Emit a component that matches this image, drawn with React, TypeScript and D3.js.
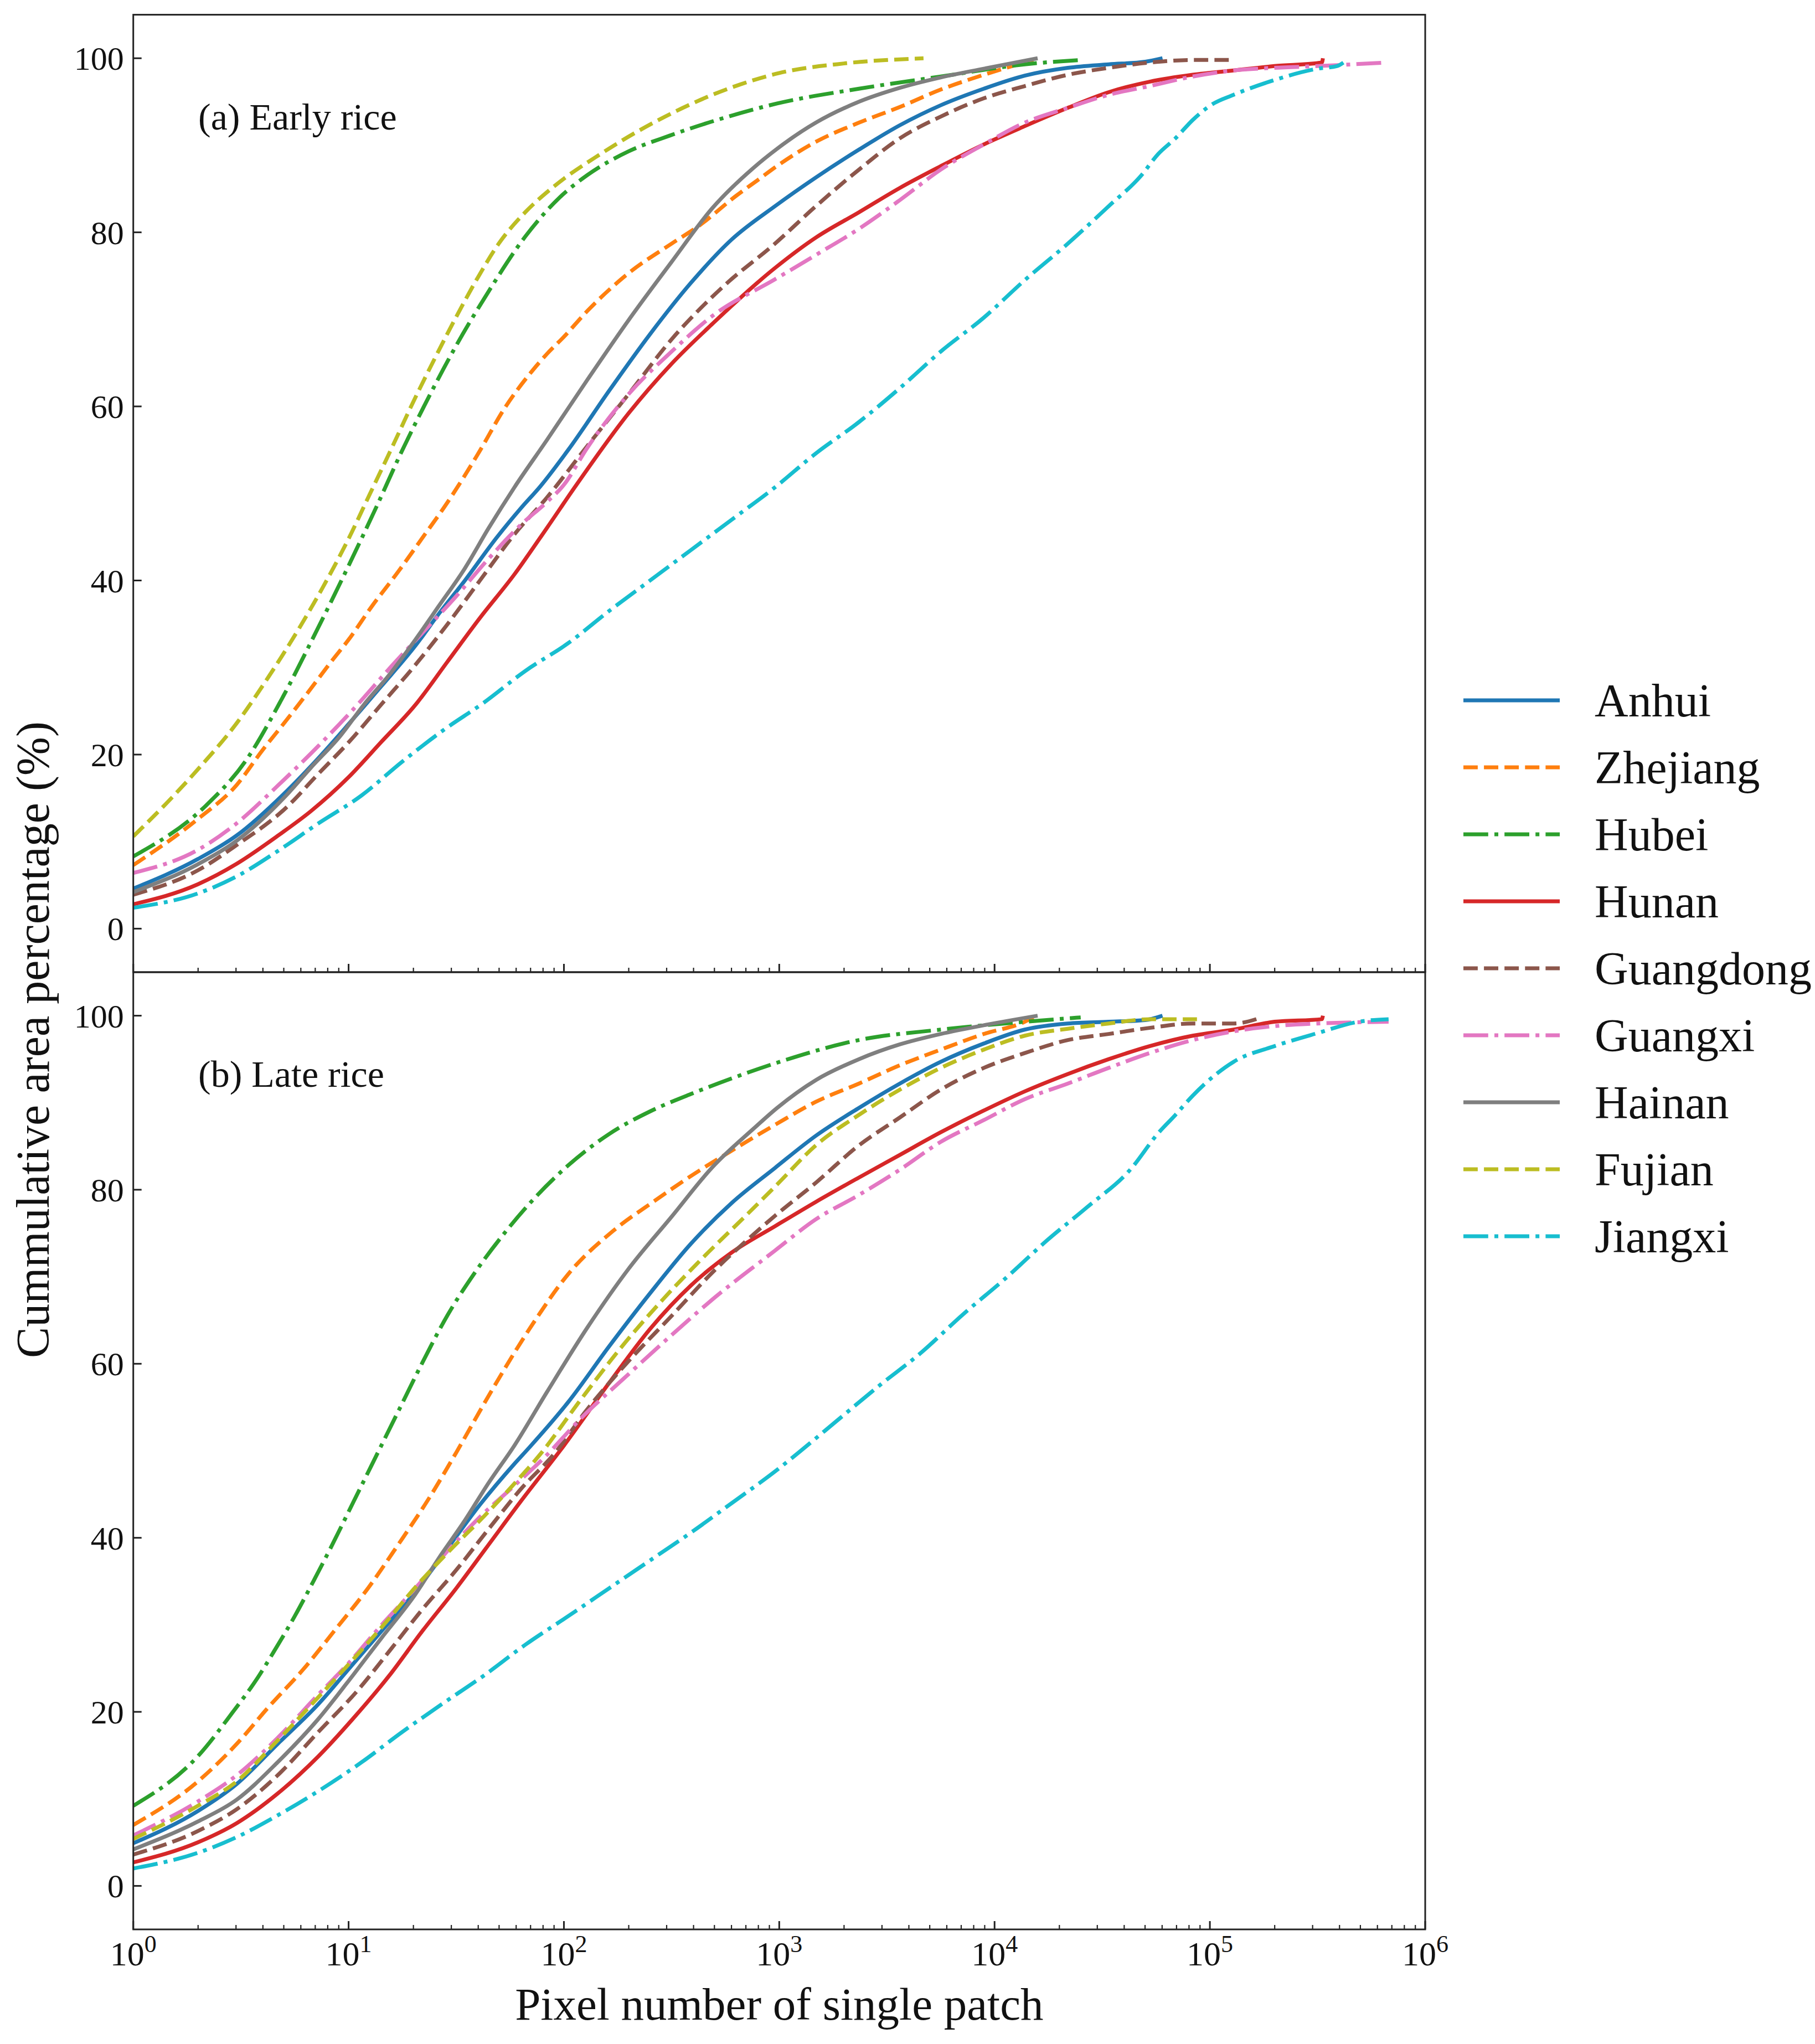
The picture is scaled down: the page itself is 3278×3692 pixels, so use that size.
import React from 'react';
import * as d3 from 'd3';

// Legend / series metadata
const provinces = ['Anhui', 'Zhejiang', 'Hubei', 'Hunan', 'Guangdong', 'Guangxi', 'Hainan', 'Fujian', 'Jiangxi'];
const colors = ['#1f77b4', '#ff7f0e', '#2ca02c', '#d62728', '#8c564b', '#e377c2', '#7f7f7f', '#bcbd22', '#17becf'];
const lineStyles = ['solid', 'dashed', 'dashdot', 'solid', 'dashed', 'dashdot', 'solid', 'dashed', 'dashdot'];
const yTicks = [0, 20, 40, 60, 80, 100];
const xTickExponents = [0, 1, 2, 3, 4, 5, 6];
const panelTitles = ['(a) Early rice', '(b) Late rice'];
const xAxisTitle = 'Pixel number of single patch';
const yAxisTitle = 'Cummulative area percentage (%)';

// Data: [log10(pixel number of single patch), cumulative area percentage]
// (a) Early rice
const earlyAnhui: [number, number][] = [[0,4.6],[0.3,8.0],[0.48,10.7],[0.7,15.5],[0.845,19.2],[1.0,23.5],[1.15,27.8],[1.31,32.5],[1.42,36.2],[1.54,40],[1.69,45],[1.8,48.3],[1.89,50.8],[2.02,55],[2.21,61.8],[2.4,68.3],[2.59,74.2],[2.78,79.2],[2.98,83],[3.17,86.3],[3.37,89.5],[3.56,92.3],[3.75,94.6],[3.95,96.5],[4.14,98],[4.34,98.9],[4.53,99.3],[4.7,99.6],[4.78,100]];
const earlyZhejiang: [number, number][] = [[0,7.3],[0.3,12.6],[0.48,16.5],[0.6,20.5],[0.7,23.6],[0.81,27.1],[0.92,30.7],[1.0,33.2],[1.11,37.1],[1.23,41],[1.34,44.8],[1.46,49],[1.6,54.5],[1.73,60],[1.85,64],[1.92,66],[2.0,68],[2.11,71],[2.3,75.3],[2.5,78.7],[2.63,80.8],[2.8,84.2],[2.9,86],[3.0,87.8],[3.17,90.4],[3.37,92.6],[3.56,94.4],[3.75,96.4],[3.95,98.1],[4.18,99.8]];
const earlyHubei: [number, number][] = [[0,8.3],[0.34,14.2],[0.52,19.2],[0.69,26.4],[0.845,33.9],[1.0,41.7],[1.13,48.5],[1.25,55],[1.35,60],[1.5,67],[1.65,73.2],[1.82,79.5],[1.98,84],[2.11,86.6],[2.3,89.3],[2.49,91.1],[2.75,93.2],[2.99,94.8],[3.37,96.5],[3.75,97.9],[4.14,99.3],[4.4,99.8]];
const earlyHunan: [number, number][] = [[0,2.8],[0.3,5.1],[0.48,7.45],[0.67,10.65],[0.825,13.5],[1.0,17.4],[1.15,21.4],[1.31,25.7],[1.46,30.7],[1.61,35.7],[1.77,40.7],[1.92,46],[2.05,50.7],[2.3,59.2],[2.5,64.9],[2.69,69.5],[2.98,75.9],[3.17,79.4],[3.37,82.3],[3.56,85.1],[3.75,87.6],[3.95,90.1],[4.14,92.2],[4.34,94.3],[4.53,96.1],[4.72,97.3],[4.92,98.1],[5.11,98.6],[5.3,99.1],[5.52,99.5],[5.525,100]];
const earlyGuangdong: [number, number][] = [[0,3.9],[0.3,6.7],[0.48,9.6],[0.71,13.9],[0.86,17.8],[1.0,21.4],[1.15,25.7],[1.31,30.3],[1.46,35],[1.61,40],[1.77,45.3],[1.92,49.5],[2.11,55.5],[2.3,61.4],[2.5,67.7],[2.75,74],[2.98,78.7],[3.17,83],[3.37,87.2],[3.56,90.8],[3.75,93.3],[3.95,95.4],[4.14,96.8],[4.34,98.1],[4.53,98.9],[4.72,99.5],[4.92,99.8],[5.11,99.8]];
const earlyGuangxi: [number, number][] = [[0,6.4],[0.3,9.05],[0.48,12.1],[0.67,16.4],[0.86,21],[1.04,25.7],[1.19,29.9],[1.34,33.9],[1.5,38.2],[1.65,42.5],[1.8,46.4],[1.92,49],[2.0,51],[2.11,55.3],[2.3,61.4],[2.5,66.3],[2.69,70.4],[2.98,74.6],[3.17,77.4],[3.37,80.4],[3.56,83.7],[3.75,87.2],[3.95,90.1],[4.14,92.6],[4.34,94.3],[4.53,95.8],[4.72,96.8],[4.92,97.9],[5.11,98.6],[5.3,98.9],[5.5,99.1],[5.81,99.5]];
const earlyHainan: [number, number][] = [[0,4.2],[0.3,7.4],[0.48,10.1],[0.71,15.3],[0.825,18.5],[0.96,22.1],[1.07,25.7],[1.19,29.2],[1.31,33.2],[1.42,37.1],[1.54,41.4],[1.65,46],[1.77,50.7],[1.92,56.1],[2.11,63.1],[2.3,69.9],[2.5,76.6],[2.69,82.8],[2.88,87.4],[2.99,89.6],[3.17,92.6],[3.37,95],[3.56,96.6],[3.75,97.8],[3.95,98.8],[4.2,100]];
const earlyFujian: [number, number][] = [[0,10.6],[0.15,14.3],[0.3,18.3],[0.48,23.6],[0.63,29],[0.77,34.5],[0.88,39.2],[1.0,44.8],[1.1,50],[1.2,55.2],[1.3,60.5],[1.4,65.5],[1.5,70.3],[1.6,74.8],[1.7,78.8],[1.82,82.3],[1.95,85.2],[2.17,89],[2.47,93.3],[2.82,97],[3.0,98.3],[3.3,99.4],[3.67,100]];
const earlyJiangxi: [number, number][] = [[0,2.4],[0.3,4.05],[0.48,6],[0.67,8.9],[0.86,12.1],[1.06,15.3],[1.25,19.2],[1.44,22.8],[1.63,26],[1.82,29.6],[2.02,32.8],[2.21,36.5],[2.4,40],[2.59,43.5],[2.78,47],[2.98,50.7],[3.17,54.6],[3.37,58.2],[3.56,62.1],[3.75,66.3],[3.95,70.2],[4.14,74.5],[4.34,78.7],[4.53,83],[4.68,86.5],[4.76,89],[4.84,90.8],[4.92,92.9],[5.01,94.7],[5.11,95.8],[5.3,97.5],[5.5,98.8],[5.59,99.1],[5.62,99.5]];

// (b) Late rice
const lateAnhui: [number, number][] = [[0,4.9],[0.3,8.6],[0.48,11.7],[0.67,16.3],[0.86,20.9],[1.0,24.9],[1.15,29.2],[1.31,33.8],[1.46,38.8],[1.61,43.8],[1.77,48.5],[1.84,50.4],[2.02,55.6],[2.21,62],[2.4,68.1],[2.59,73.8],[2.78,78.5],[2.98,82.5],[3.17,86.2],[3.37,89.4],[3.56,92.2],[3.75,94.7],[3.95,96.8],[4.14,98.4],[4.34,99.1],[4.53,99.3],[4.7,99.5],[4.78,100]];
const lateZhejiang: [number, number][] = [[0,7],[0.3,12],[0.48,16.3],[0.63,20.6],[0.79,24.9],[0.94,29.5],[1.09,34.2],[1.23,39.2],[1.38,44.8],[1.5,49.8],[1.65,56.3],[1.84,64],[2.03,70.6],[2.23,75.3],[2.42,78.7],[2.61,81.9],[2.8,84.8],[2.99,87.6],[3.17,90.1],[3.37,92.2],[3.56,94.3],[3.75,96.1],[3.95,97.9],[4.14,99.3],[4.18,99.8]];
const lateHubei: [number, number][] = [[0,9.2],[0.3,14.9],[0.46,19.9],[0.58,24],[0.65,26.8],[0.75,31],[0.845,35.4],[0.92,39],[1.02,44],[1.11,48.5],[1.25,55.5],[1.34,60],[1.46,65.6],[1.59,70.6],[1.73,75.2],[1.84,78.4],[2.02,82.8],[2.21,86.4],[2.4,89],[2.59,91],[2.78,92.8],[2.99,94.6],[3.37,97.2],[3.75,98.4],[4.14,99.3],[4.4,99.8]];
const lateHunan: [number, number][] = [[0,2.7],[0.3,5],[0.48,7.2],[0.67,10.6],[0.86,14.9],[1.02,19.2],[1.19,24.2],[1.34,29.2],[1.5,34.2],[1.65,39.2],[1.8,44.2],[2.0,50.6],[2.21,57.8],[2.4,64],[2.59,69],[2.78,72.8],[2.98,75.8],[3.17,78.6],[3.37,81.4],[3.56,84],[3.75,86.6],[3.95,89.1],[4.14,91.3],[4.34,93.3],[4.53,95],[4.72,96.5],[4.92,97.7],[5.11,98.4],[5.3,99.3],[5.52,99.6],[5.525,100]];
const lateGuangdong: [number, number][] = [[0,3.6],[0.3,6.3],[0.48,8.8],[0.67,12.7],[0.86,17.7],[1.04,22.4],[1.19,27],[1.34,31.7],[1.5,36.3],[1.65,41],[1.8,45.6],[1.96,49.8],[2.1,54.5],[2.3,60.3],[2.5,65.5],[2.69,70.5],[2.85,74.2],[2.98,77],[3.17,80.8],[3.37,85.1],[3.56,88.3],[3.75,91.5],[3.95,94],[4.14,95.7],[4.34,97.2],[4.53,97.9],[4.72,98.6],[4.92,99.1],[5.11,99.1],[5.24,99.8]];
const lateGuangxi: [number, number][] = [[0,5.8],[0.3,9.7],[0.48,12.7],[0.67,17],[0.86,22],[1.0,25.6],[1.15,29.9],[1.31,34.2],[1.46,38.5],[1.61,42.4],[1.77,46],[1.92,49.5],[2.07,53.5],[2.3,58.8],[2.5,63.3],[2.69,67.4],[2.98,73],[3.17,76.6],[3.37,79.4],[3.56,82.3],[3.75,85.5],[3.95,88],[4.14,90.4],[4.34,92.2],[4.53,94],[4.72,95.7],[4.92,97.2],[5.11,98.2],[5.3,98.8],[5.5,99.1],[5.83,99.3]];
const lateHainan: [number, number][] = [[0,4.2],[0.3,7.4],[0.48,9.9],[0.67,14.2],[0.86,19.2],[1.02,24.2],[1.15,28.4],[1.31,33.5],[1.42,37.7],[1.54,42],[1.65,46.3],[1.77,50.6],[1.92,56.7],[2.11,64.2],[2.3,70.9],[2.5,76.9],[2.69,82.6],[2.88,87],[2.99,89.4],[3.17,92.6],[3.37,95],[3.56,96.7],[3.75,97.9],[3.95,98.9],[4.2,100]];
const lateFujian: [number, number][] = [[0,5.4],[0.3,9.2],[0.48,12],[0.67,16.7],[0.86,21.7],[1.02,26],[1.17,30.2],[1.32,34.6],[1.48,38.8],[1.63,42.5],[1.78,46.5],[1.89,49.6],[2.07,55.6],[2.26,61.7],[2.46,67.4],[2.65,72.3],[2.84,76.9],[2.99,80.6],[3.17,85.1],[3.37,88.6],[3.56,91.5],[3.75,94],[3.95,96.1],[4.14,97.7],[4.34,98.5],[4.53,99.1],[4.72,99.6],[4.94,99.6]];
const lateJiangxi: [number, number][] = [[0,2],[0.3,3.8],[0.48,5.6],[0.67,8.1],[0.86,10.9],[1.06,14.2],[1.25,17.7],[1.44,21],[1.63,24.2],[1.82,27.7],[2.02,31],[2.21,34.2],[2.4,37.4],[2.59,40.6],[2.78,44],[3.0,48],[3.1,50],[3.27,53.5],[3.46,57.4],[3.66,61.3],[3.85,65.6],[4.05,69.8],[4.24,74.1],[4.43,78],[4.63,82.3],[4.76,86.5],[4.84,88.6],[4.92,90.8],[5.03,93.3],[5.11,94.7],[5.3,96.5],[5.5,98],[5.69,99.3],[5.83,99.6]];

const earlySeries = [earlyAnhui, earlyZhejiang, earlyHubei, earlyHunan, earlyGuangdong, earlyGuangxi, earlyHainan, earlyFujian, earlyJiangxi];
const lateSeries = [lateAnhui, lateZhejiang, lateHubei, lateHunan, lateGuangdong, lateGuangxi, lateHainan, lateFujian, lateJiangxi];
const panelSeries = [earlySeries, lateSeries];

// Layout
const W = 3278;
const H = 3692;
const LEFT = 240.7;
const RIGHT = 2574;
const PANELS = [
  { top: 26.6, bottom: 1756 },
  { top: 1756, bottom: 3485 },
];
const LW = 7;
const FONT = "'Liberation Serif', 'Times New Roman', Times, serif";

function dashFor(style: string): string | undefined {
  if (style === 'dashed') return `${3.7 * LW} ${1.6 * LW}`;
  if (style === 'dashdot') return `${6.4 * LW} ${1.6 * LW} ${1 * LW} ${1.6 * LW}`;
  return undefined;
}

export default function App() {
  const x = d3.scaleLog().domain([1, 1e6]).range([LEFT, RIGHT]);
  const minorTicks: number[] = [];
  for (let e = 0; e < 6; e++) for (let k = 2; k <= 9; k++) minorTicks.push(k * Math.pow(10, e));

  return (
    <svg
      width={W}
      height={H}
      viewBox={`0 0 ${W} ${H}`}
      style={{ position: 'absolute', left: 0, top: 0, display: 'block', background: '#fff' }}
      fontFamily={FONT}
    >
      <rect x={0} y={0} width={W} height={H} fill="#fff" />
      {PANELS.map((p, pi) => {
        const y = d3.scaleLinear().domain([-5, 105]).range([p.bottom, p.top]);
        const line = d3
          .line<[number, number]>()
          .x((d) => x(Math.pow(10, d[0])))
          .y((d) => y(d[1]))
          .curve(d3.curveMonotoneX);
        const clipId = `clip${pi}`;
        return (
          <g key={pi}>
            <defs>
              <clipPath id={clipId}>
                <rect x={LEFT} y={p.top} width={RIGHT - LEFT} height={p.bottom - p.top} />
              </clipPath>
            </defs>
            <g clipPath={`url(#${clipId})`}>
              {panelSeries[pi].map((s, si) => (
                <path
                  key={si}
                  d={line(s) || ''}
                  fill="none"
                  stroke={colors[si]}
                  strokeWidth={LW}
                  strokeDasharray={dashFor(lineStyles[si])}
                  strokeLinejoin="round"
                  strokeLinecap="butt"
                />
              ))}
            </g>
            {yTicks.map((t) => (
              <g key={t}>
                <line x1={LEFT} x2={LEFT + 15} y1={y(t)} y2={y(t)} stroke="#222" strokeWidth={3} />
                <text x={LEFT - 17} y={y(t)} dy="0.35em" textAnchor="end" fontSize={60} fill="#111">
                  {t}
                </text>
              </g>
            ))}
            {xTickExponents.map((e) => (
              <line key={e} x1={x(Math.pow(10, e))} x2={x(Math.pow(10, e))} y1={p.bottom} y2={p.bottom - 15} stroke="#222" strokeWidth={3} />
            ))}
            {minorTicks.map((v) => (
              <line key={v} x1={x(v)} x2={x(v)} y1={p.bottom} y2={p.bottom - 8} stroke="#222" strokeWidth={2.2} />
            ))}
            <rect x={LEFT} y={p.top} width={RIGHT - LEFT} height={p.bottom - p.top} fill="none" stroke="#222" strokeWidth={3} />
            <text x={358} y={p.top + 207} fontSize={68} fill="#111">
              {panelTitles[pi]}
            </text>
          </g>
        );
      })}

      {xTickExponents.map((e) => (
        <text key={e} x={x(Math.pow(10, e))} y={3550} textAnchor="middle" fontSize={62} fill="#111">
          10
          <tspan dy={-24} fontSize={44}>
            {e}
          </tspan>
        </text>
      ))}

      <text x={(LEFT + RIGHT) / 2} y={3648} textAnchor="middle" fontSize={83} fill="#111">
        {xAxisTitle}
      </text>
      <text transform="translate(88,1878) rotate(-90)" textAnchor="middle" fontSize={84} fill="#111">
        {yAxisTitle}
      </text>

      {provinces.map((name, i) => {
        const ly = 1265 + 121 * i;
        return (
          <g key={name}>
            <line
              x1={2643}
              x2={2817}
              y1={ly}
              y2={ly}
              stroke={colors[i]}
              strokeWidth={LW}
              strokeDasharray={dashFor(lineStyles[i])}
            />
            <text x={2880} y={ly + 29} fontSize={84} fill="#111">
              {name}
            </text>
          </g>
        );
      })}
    </svg>
  );
}
